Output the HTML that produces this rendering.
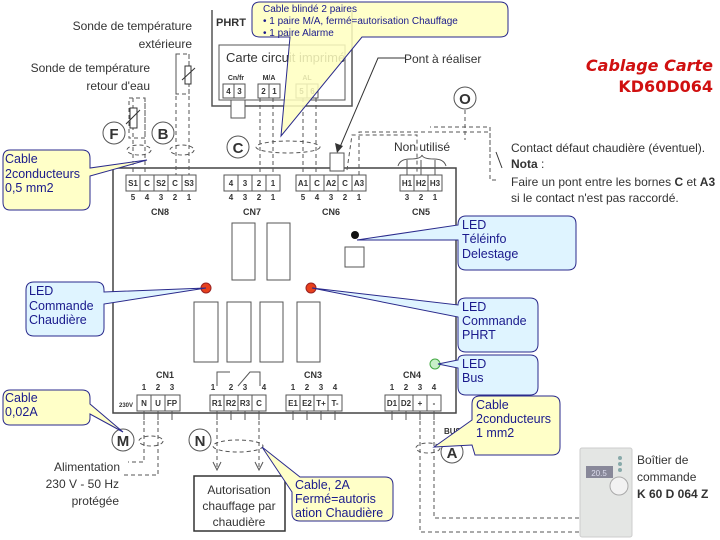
<!DOCTYPE html>
<html><head><meta charset="utf-8"><style>
html,body{margin:0;padding:0;background:#fff;width:720px;height:540px;overflow:hidden}
svg{display:block}
text{font-family:"Liberation Sans",sans-serif}
.t{font-size:8px;font-weight:bold;fill:#333;text-anchor:middle}
.n{font-size:8px;fill:#333;text-anchor:middle;font-weight:bold}
.cn{font-size:9px;font-weight:bold;fill:#333;text-anchor:middle}
.lbl{font-size:12px;fill:#333}
.co{font-family:"DejaVu Sans",sans-serif;font-size:12.5px;fill:#1a1a8c}
.d{stroke:#555;stroke-width:1;stroke-dasharray:4,3;fill:none}
.b{fill:#fff;stroke:#555;stroke-width:1}
</style></head><body>
<svg width="720" height="540" viewBox="0 0 720 540" xmlns="http://www.w3.org/2000/svg">
<!-- PHRT box -->
<path d="M212 10 V106 H352 V10" fill="none" stroke="#555" stroke-width="1.5"/>
<text x="216" y="26" style="font-size:11px;font-weight:bold;fill:#333">PHRT</text>
<rect x="219" y="45" width="126" height="55" class="b" stroke-width="1.5"/>
<text x="226" y="62" style="font-size:13px;fill:#333">Carte circuit imprimé</text>
<text x="236" y="80" class="t" style="font-size:7px">Cn/fr</text>
<text x="269" y="80" class="t" style="font-size:7px">M/A</text>
<text x="307" y="80" class="t" style="font-size:7px">AL</text>
<rect x="223" y="84" width="11" height="14" class="b"/><text x="228.5" y="94" class="t">4</text>
<rect x="234" y="84" width="11" height="14" class="b"/><text x="239.5" y="94" class="t">3</text>
<rect x="258" y="84" width="11" height="14" class="b"/><text x="263.5" y="94" class="t">2</text>
<rect x="269" y="84" width="11" height="14" class="b"/><text x="274.5" y="94" class="t">1</text>
<rect x="296" y="84" width="11" height="14" class="b"/><text x="301.5" y="94" class="t">5</text>
<rect x="307" y="84" width="11" height="14" class="b"/><text x="312.5" y="94" class="t">6</text>
<rect x="231" y="100" width="14" height="18" class="b"/>
<!-- board -->
<rect x="113" y="168" width="343" height="245" fill="#fff" stroke="#444" stroke-width="1.5"/>
<!-- dashed wires top -->
<path class="d" d="M133 98 V175 M145 98 V175 M176 54 V175 M189 54 V175"/>
<rect x="129" y="98" width="16" height="40" class="d"/>
<rect x="176" y="54" width="13" height="40" class="d"/>
<rect x="130" y="108" width="7" height="20" fill="#fff" stroke="#333"/>
<line x1="126" y1="124" x2="140" y2="110" stroke="#333"/>
<rect x="185" y="66" width="6" height="18" fill="#fff" stroke="#333"/>
<line x1="182" y1="80" x2="195" y2="68" stroke="#333"/>
<ellipse cx="139" cy="150" rx="12" ry="5" class="d"/>
<ellipse cx="182" cy="150" rx="12" ry="5" class="d"/>
<path class="d" d="M260 98 V175 M273 98 V175 M303 98 V175 M316 98 V175"/>
<ellipse cx="288" cy="147" rx="32" ry="6" class="d"/>
<rect x="330" y="153" width="14" height="18" class="b"/>
<path class="d" d="M347 170 L352 135 H417 V180 M359 175 V132 H490 V180 H496"/>
<line x1="496" y1="152" x2="502" y2="168" stroke="#333"/>
<path class="d" d="M490 152 V127 H430" />
<path class="d" d="M465 110 V140"/>
<!-- callout arrow pont -->
<path d="M405 58 H378 L340 147" fill="none" stroke="#333"/>
<path d="M337 153 L335 143 L343 146 Z" fill="#333"/>
<text x="404" y="63" class="lbl">Pont à réaliser</text>
<!-- non utilise brace -->
<text x="394" y="151" class="lbl">Non utilisé</text>
<path d="M398 166 Q400 159 410 159 Q421 159 422 155 Q423 159 434 159 Q444 159 446 166" fill="none" stroke="#555"/>
<path d="M407 160 V175 M421 160 V175 M435 160 V175" stroke="#555"/>
<!-- connectors top -->
<g>
<rect x="126" y="175" width="14" height="16" class="b"/><text x="133" y="186" class="t">S1</text>
<rect x="140" y="175" width="14" height="16" class="b"/><text x="147" y="186" class="t">C</text>
<rect x="154" y="175" width="14" height="16" class="b"/><text x="161" y="186" class="t">S2</text>
<rect x="168" y="175" width="14" height="16" class="b"/><text x="175" y="186" class="t">C</text>
<rect x="182" y="175" width="14" height="16" class="b"/><text x="189" y="186" class="t">S3</text>
<text x="133" y="200" class="n">5</text><text x="147" y="200" class="n">4</text><text x="161" y="200" class="n">3</text><text x="175" y="200" class="n">2</text><text x="189" y="200" class="n">1</text>
<text x="160" y="215" class="cn">CN8</text>
<rect x="224" y="175" width="14" height="16" class="b"/><text x="231" y="186" class="t">4</text>
<rect x="238" y="175" width="14" height="16" class="b"/><text x="245" y="186" class="t">3</text>
<rect x="252" y="175" width="14" height="16" class="b"/><text x="259" y="186" class="t">2</text>
<rect x="266" y="175" width="14" height="16" class="b"/><text x="273" y="186" class="t">1</text>
<text x="231" y="200" class="n">4</text><text x="245" y="200" class="n">3</text><text x="259" y="200" class="n">2</text><text x="273" y="200" class="n">1</text>
<text x="252" y="215" class="cn">CN7</text>
<rect x="296" y="175" width="14" height="16" class="b"/><text x="303" y="186" class="t">A1</text>
<rect x="310" y="175" width="14" height="16" class="b"/><text x="317" y="186" class="t">C</text>
<rect x="324" y="175" width="14" height="16" class="b"/><text x="331" y="186" class="t">A2</text>
<rect x="338" y="175" width="14" height="16" class="b"/><text x="345" y="186" class="t">C</text>
<rect x="352" y="175" width="14" height="16" class="b"/><text x="359" y="186" class="t">A3</text>
<text x="303" y="200" class="n">5</text><text x="317" y="200" class="n">4</text><text x="331" y="200" class="n">3</text><text x="345" y="200" class="n">2</text><text x="359" y="200" class="n">1</text>
<text x="331" y="215" class="cn">CN6</text>
<rect x="400" y="175" width="14" height="16" class="b"/><text x="407" y="186" class="t">H1</text>
<rect x="414" y="175" width="14" height="16" class="b"/><text x="421" y="186" class="t">H2</text>
<rect x="428" y="175" width="14" height="16" class="b"/><text x="435" y="186" class="t">H3</text>
<text x="407" y="200" class="n">3</text><text x="421" y="200" class="n">2</text><text x="435" y="200" class="n">1</text>
<text x="421" y="215" class="cn">CN5</text>
</g>
<!-- relays -->
<rect x="232" y="223" width="23" height="57" class="b"/>
<rect x="267" y="223" width="23" height="57" class="b"/>
<rect x="194" y="302" width="24" height="60" class="b"/>
<rect x="227" y="302" width="24" height="60" class="b"/>
<rect x="260" y="302" width="23" height="60" class="b"/>
<rect x="297" y="302" width="23" height="60" class="b"/>
<rect x="345" y="247" width="19" height="20" class="b"/>
<circle cx="355" cy="235" r="4" fill="#111"/>
<circle cx="206" cy="288" r="5" fill="#e8401c" stroke="#922"/>
<circle cx="311" cy="288" r="5" fill="#e8401c" stroke="#922"/>
<circle cx="435" cy="364" r="5" fill="#c8f0c8" stroke="#4a4"/>
<!-- bottom connectors -->
<text x="165" y="378" class="cn">CN1</text>
<text x="313" y="378" class="cn">CN3</text>
<text x="412" y="378" class="cn">CN4</text>
<text x="119" y="407" style="font-size:6px;font-weight:bold;fill:#333">230V</text>
<g>
<rect x="137" y="395" width="14" height="16" class="b"/><text x="144" y="406" class="t">N</text>
<rect x="151" y="395" width="14" height="16" class="b"/><text x="158" y="406" class="t">U</text>
<rect x="165" y="395" width="15" height="16" class="b"/><text x="172" y="406" class="t">FP</text>
<text x="144" y="390" class="n">1</text><text x="158" y="390" class="n">2</text><text x="172" y="390" class="n">3</text>
<rect x="210" y="395" width="14" height="16" class="b"/><text x="217" y="406" class="t">R1</text>
<rect x="224" y="395" width="14" height="16" class="b"/><text x="231" y="406" class="t">R2</text>
<rect x="238" y="395" width="14" height="16" class="b"/><text x="245" y="406" class="t">R3</text>
<rect x="252" y="395" width="14" height="16" class="b"/><text x="259" y="406" class="t">C</text>
<text x="213" y="390" class="n">1</text><text x="231" y="390" class="n">2</text><text x="245" y="390" class="n">3</text><text x="264" y="390" class="n">4</text>
<path d="M217 386 V372 H230 M238 386 L250 372 H260 V386" fill="none" stroke="#555"/>
<rect x="286" y="395" width="14" height="16" class="b"/><text x="293" y="406" class="t">E1</text>
<rect x="300" y="395" width="14" height="16" class="b"/><text x="307" y="406" class="t">E2</text>
<rect x="314" y="395" width="14" height="16" class="b"/><text x="321" y="406" class="t">T+</text>
<rect x="328" y="395" width="14" height="16" class="b"/><text x="335" y="406" class="t">T-</text>
<text x="293" y="390" class="n">1</text><text x="307" y="390" class="n">2</text><text x="321" y="390" class="n">3</text><text x="335" y="390" class="n">4</text>
<rect x="385" y="395" width="14" height="16" class="b"/><text x="392" y="406" class="t">D1</text>
<rect x="399" y="395" width="14" height="16" class="b"/><text x="406" y="406" class="t">D2</text>
<rect x="413" y="395" width="14" height="16" class="b"/><text x="420" y="406" class="t">+</text>
<rect x="427" y="395" width="14" height="16" class="b"/><text x="434" y="406" class="t">-</text>
<text x="392" y="390" class="n">1</text><text x="406" y="390" class="n">2</text><text x="420" y="390" class="n">3</text><text x="434" y="390" class="n">4</text>
</g>
<path stroke="#555" d="M144 411 V420 M158 411 V420 M172 411 V420 M217 411 V420 M231 411 V420 M245 411 V420 M259 411 V420 M293 411 V420 M307 411 V420 M321 411 V420 M335 411 V420 M392 411 V420 M406 411 V420 M420 411 V420 M434 411 V420"/>
<!-- bottom dashed -->
<path class="d" d="M144 414 V462 H128 M158 414 V475 H123"/>
<ellipse cx="151" cy="441" rx="12" ry="5" class="d"/>
<path class="d" d="M217 414 V468 M259 414 V468"/>
<ellipse cx="238" cy="446" rx="25" ry="6" class="d"/>
<path d="M213 462 L217 470 L221 462 M255 462 L259 470 L263 462" fill="none" stroke="#555"/>
<path class="d" d="M420 414 V532 H580 M434 414 V518 H580"/>
<ellipse cx="428" cy="448" rx="12" ry="5" class="d"/>
<rect x="194" y="476" width="91" height="55" fill="#fff" stroke="#333" stroke-width="1.5"/>
<text x="239" y="494" class="lbl" text-anchor="middle">Autorisation</text>
<text x="239" y="510" class="lbl" text-anchor="middle">chauffage par</text>
<text x="239" y="526" class="lbl" text-anchor="middle">chaudière</text>
<!-- letter circles -->
<g style="font-size:15px;font-weight:bold;fill:#333" text-anchor="middle">
<circle cx="114" cy="133" r="11" fill="#fff" stroke="#555"/><text x="114" y="139">F</text>
<circle cx="163" cy="133" r="11" fill="#fff" stroke="#555"/><text x="163" y="139">B</text>
<circle cx="238" cy="147" r="11" fill="#fff" stroke="#555"/><text x="238" y="153">C</text>
<circle cx="465" cy="98" r="11" fill="#fff" stroke="#555"/><text x="465" y="104">O</text>
<circle cx="123" cy="440" r="11" fill="#fff" stroke="#555"/><text x="123" y="446">M</text>
<circle cx="200" cy="440" r="11" fill="#fff" stroke="#555"/><text x="200" y="446">N</text>
<circle cx="452" cy="452" r="11" fill="#fff" stroke="#555"/><text x="452" y="458">A</text>
</g>
<text x="444" y="434" style="font-size:8px;font-weight:bold;fill:#333">BUS</text>
<!-- labels -->
<g class="lbl" text-anchor="end">
<text x="192" y="30">Sonde de température</text>
<text x="192" y="48">extérieure</text>
<text x="150" y="72">Sonde de température</text>
<text x="150" y="90">retour d'eau</text>
<text x="120" y="471">Alimentation</text>
<text x="119" y="488">230 V - 50 Hz</text>
<text x="119" y="505">protégée</text>
</g>
<g class="lbl">
<text x="511" y="152">Contact défaut chaudière (éventuel).</text>
<text x="511" y="168" font-weight="bold">Nota <tspan font-weight="normal">:</tspan></text>
<text x="511" y="186">Faire un pont entre les bornes <tspan font-weight="bold">C</tspan> et <tspan font-weight="bold">A3</tspan></text>
<text x="511" y="202">si le contact n'est pas raccordé.</text>
<text x="637" y="464">Boîtier de</text>
<text x="637" y="481">commande</text>
<text x="637" y="498" font-weight="bold">K 60 D 064 Z</text>
</g>
<text x="713" y="71" text-anchor="end" style="font-family:'DejaVu Sans',sans-serif;font-size:16px;font-weight:bold;font-style:italic;fill:#d01010">Cablage Carte</text>
<text x="713" y="92" text-anchor="end" style="font-family:'DejaVu Sans',sans-serif;font-size:16px;font-weight:bold;fill:#d01010">KD60D064</text>
<!-- thermostat -->
<rect x="580" y="448" width="52" height="89" rx="2" fill="#e4e6e4" stroke="#ccc"/>
<rect x="586" y="466" width="27" height="12" fill="#889" />
<text x="599" y="476" style="font-size:8px;fill:#dde" text-anchor="middle">20.5</text>
<circle cx="619" cy="486" r="9" fill="#f2f2f2" stroke="#aaa"/>
<circle cx="620" cy="458" r="2" fill="#8aa"/><circle cx="620" cy="464" r="2" fill="#8aa"/><circle cx="620" cy="470" r="2" fill="#8aa"/>
<!-- yellow callouts -->
<g fill="#ffffc8" stroke="#2a2a8c" stroke-width="1">
<path d="M260 2 H500 Q508 2 508 10 V30 Q508 37 500 37 H362 L281 136 L290 37 H260 Q252 37 252 30 V10 Q252 2 260 2 Z" fill="#ffffc0" fill-opacity="0.85"/>
<path d="M10 150 H82 Q90 150 90 158 V168 L147 160 L90 176 V202 Q90 210 82 210 H10 Q3 210 3 202 V158 Q3 150 10 150 Z"/>
<path d="M10 390 H82 Q90 390 90 398 V404 L123 432 L90 414 V418 Q90 425 82 425 H10 Q3 425 3 418 V398 Q3 390 10 390 Z"/>
<path d="M300 477 H385 Q393 477 393 485 V513 Q393 521 385 521 H300 Q292 521 292 513 V492 L262 447 L300 477 Z"/>
<path d="M480 396 H552 Q560 396 560 404 V447 Q560 455 552 455 H475 L472 445 L434 447 L472 420 V404 Q472 396 480 396 Z"/>
</g>
<g fill="#dff4ff" stroke="#2a2a8c" stroke-width="1">
<path d="M466 216 H568 Q576 216 576 224 V262 Q576 270 568 270 H466 Q458 270 458 262 V240 L357 240 L458 225 Q458 216 466 216 Z"/>
<path d="M466 298 H530 Q538 298 538 306 V344 Q538 352 530 352 H466 Q458 352 458 344 V317 L312 288 L458 305 Q458 298 466 298 Z"/>
<path d="M466 355 H530 Q538 355 538 363 V387 Q538 395 530 395 H466 Q458 395 458 387 V368 L438 364 L458 360 Q458 355 466 355 Z"/>
<path d="M34 282 H96 Q104 282 104 290 V292 L206 288 L104 304 V328 Q104 336 96 336 H34 Q26 336 26 328 V290 Q26 282 34 282 Z"/>
</g>
<g class="co">
<text x="263" y="12" style="font-size:10px">Cable blindé 2 paires</text>
<text x="263" y="24" style="font-size:10px">•   1 paire M/A, fermé=autorisation Chauffage</text>
<text x="263" y="36" style="font-size:10px">•   1 paire Alarme</text>
<text x="5" y="163">Cable</text><text x="5" y="178">2conducteurs</text><text x="5" y="192">0,5 mm2</text>
<text x="5" y="402">Cable</text><text x="5" y="416">0,02A</text>
<text x="295" y="489">Cable, 2A</text><text x="295" y="503">Fermé=autoris</text><text x="295" y="517">ation Chaudière</text>
<text x="476" y="409">Cable</text><text x="476" y="423">2conducteurs</text><text x="476" y="437">1 mm2</text>
<text x="462" y="229">LED</text><text x="462" y="243">Téléinfo</text><text x="462" y="258">Delestage</text>
<text x="462" y="311">LED</text><text x="462" y="325">Commande</text><text x="462" y="339">PHRT</text>
<text x="462" y="368">LED</text><text x="462" y="382">Bus</text>
<text x="29" y="295">LED</text><text x="29" y="310">Commande</text><text x="29" y="324">Chaudière</text>
</g>
</svg>
</body></html>
